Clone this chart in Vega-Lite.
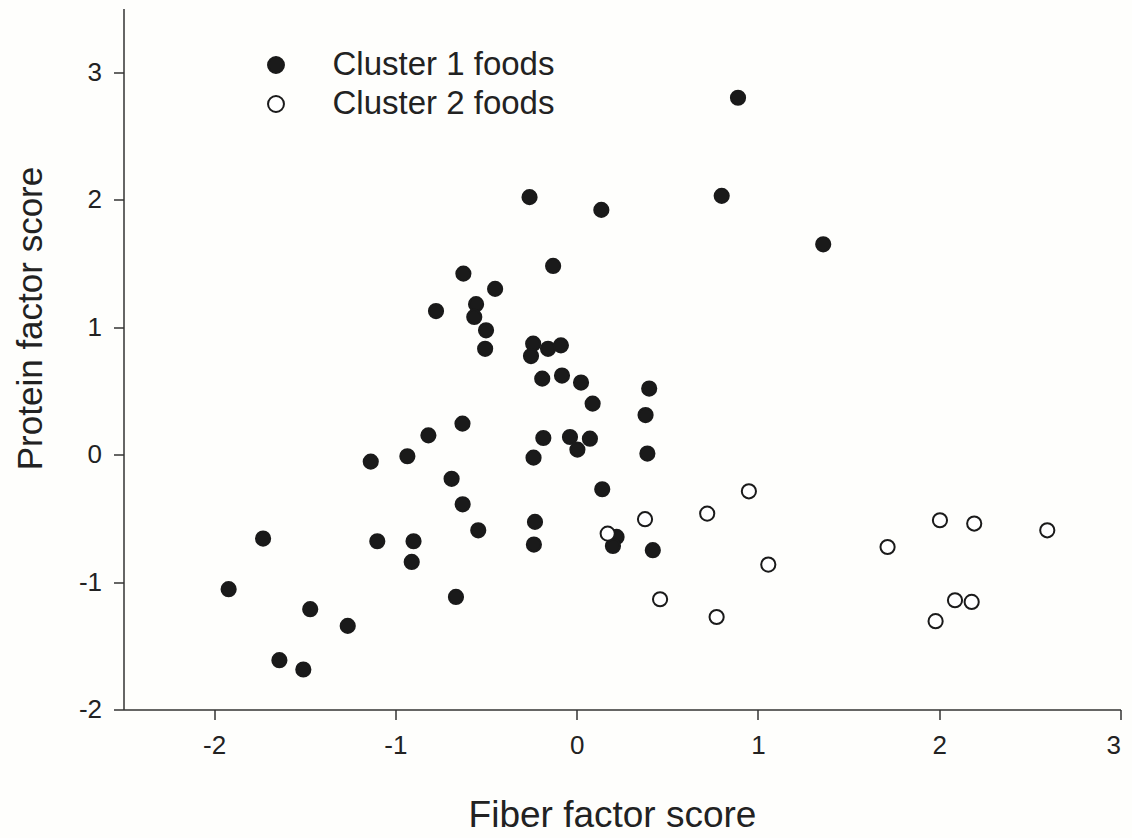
{
  "$schema": "https://vega.github.io/schema/vega-lite/v6.json",
  "width": 997,
  "height": 701,
  "autosize": "none",
  "padding": {"left": 123.5, "top": 8.5, "right": 11.5, "bottom": 128.5},
  "background": "#fefefc",
  "config": {
    "view": {"stroke": null},
    "font": "Liberation Sans",
    "axis": {"labelFontSize": 26, "labelFont": "Liberation Sans", "labelColor": "#222222"}
  },
  "data": {
    "values": [
      {"fiber": 0.89, "protein": 2.80, "cluster": "Cluster 1 foods"},
      {"fiber": -0.26, "protein": 2.02, "cluster": "Cluster 1 foods"},
      {"fiber": 0.136, "protein": 1.92, "cluster": "Cluster 1 foods"},
      {"fiber": 0.80, "protein": 2.03, "cluster": "Cluster 1 foods"},
      {"fiber": 1.36, "protein": 1.65, "cluster": "Cluster 1 foods"},
      {"fiber": -0.13, "protein": 1.48, "cluster": "Cluster 1 foods"},
      {"fiber": -0.625, "protein": 1.42, "cluster": "Cluster 1 foods"},
      {"fiber": -0.45, "protein": 1.30, "cluster": "Cluster 1 foods"},
      {"fiber": -0.776, "protein": 1.126, "cluster": "Cluster 1 foods"},
      {"fiber": -0.555, "protein": 1.18, "cluster": "Cluster 1 foods"},
      {"fiber": -0.565, "protein": 1.08, "cluster": "Cluster 1 foods"},
      {"fiber": -0.50, "protein": 0.975, "cluster": "Cluster 1 foods"},
      {"fiber": -0.505, "protein": 0.83, "cluster": "Cluster 1 foods"},
      {"fiber": -0.24, "protein": 0.87, "cluster": "Cluster 1 foods"},
      {"fiber": -0.252, "protein": 0.773, "cluster": "Cluster 1 foods"},
      {"fiber": -0.158, "protein": 0.83, "cluster": "Cluster 1 foods"},
      {"fiber": -0.087, "protein": 0.857, "cluster": "Cluster 1 foods"},
      {"fiber": -0.19, "protein": 0.596, "cluster": "Cluster 1 foods"},
      {"fiber": -0.081, "protein": 0.62, "cluster": "Cluster 1 foods"},
      {"fiber": 0.024, "protein": 0.565, "cluster": "Cluster 1 foods"},
      {"fiber": 0.088, "protein": 0.40, "cluster": "Cluster 1 foods"},
      {"fiber": 0.40, "protein": 0.518, "cluster": "Cluster 1 foods"},
      {"fiber": 0.38, "protein": 0.31, "cluster": "Cluster 1 foods"},
      {"fiber": 0.39, "protein": 0.008, "cluster": "Cluster 1 foods"},
      {"fiber": -0.63, "protein": 0.243, "cluster": "Cluster 1 foods"},
      {"fiber": -0.818, "protein": 0.151, "cluster": "Cluster 1 foods"},
      {"fiber": -0.934, "protein": -0.013, "cluster": "Cluster 1 foods"},
      {"fiber": -1.136, "protein": -0.055, "cluster": "Cluster 1 foods"},
      {"fiber": -0.184, "protein": 0.13, "cluster": "Cluster 1 foods"},
      {"fiber": -0.037, "protein": 0.138, "cluster": "Cluster 1 foods"},
      {"fiber": 0.073, "protein": 0.125, "cluster": "Cluster 1 foods"},
      {"fiber": 0.004, "protein": 0.039, "cluster": "Cluster 1 foods"},
      {"fiber": -0.238, "protein": -0.024, "cluster": "Cluster 1 foods"},
      {"fiber": -0.69, "protein": -0.19, "cluster": "Cluster 1 foods"},
      {"fiber": -0.629, "protein": -0.39, "cluster": "Cluster 1 foods"},
      {"fiber": -0.543, "protein": -0.594, "cluster": "Cluster 1 foods"},
      {"fiber": -0.23, "protein": -0.528, "cluster": "Cluster 1 foods"},
      {"fiber": -0.236, "protein": -0.706, "cluster": "Cluster 1 foods"},
      {"fiber": -0.666, "protein": -1.117, "cluster": "Cluster 1 foods"},
      {"fiber": 0.141, "protein": -0.272, "cluster": "Cluster 1 foods"},
      {"fiber": 0.22, "protein": -0.646, "cluster": "Cluster 1 foods"},
      {"fiber": 0.20, "protein": -0.717, "cluster": "Cluster 1 foods"},
      {"fiber": 0.42, "protein": -0.75, "cluster": "Cluster 1 foods"},
      {"fiber": -1.73, "protein": -0.659, "cluster": "Cluster 1 foods"},
      {"fiber": -1.10, "protein": -0.68, "cluster": "Cluster 1 foods"},
      {"fiber": -0.90, "protein": -0.68, "cluster": "Cluster 1 foods"},
      {"fiber": -0.91, "protein": -0.842, "cluster": "Cluster 1 foods"},
      {"fiber": -1.92, "protein": -1.056, "cluster": "Cluster 1 foods"},
      {"fiber": -1.47, "protein": -1.213, "cluster": "Cluster 1 foods"},
      {"fiber": -1.263, "protein": -1.344, "cluster": "Cluster 1 foods"},
      {"fiber": -1.64, "protein": -1.613, "cluster": "Cluster 1 foods"},
      {"fiber": -1.508, "protein": -1.686, "cluster": "Cluster 1 foods"},
      {"fiber": 0.171, "protein": -0.62, "cluster": "Cluster 2 foods"},
      {"fiber": 0.377, "protein": -0.507, "cluster": "Cluster 2 foods"},
      {"fiber": 0.72, "protein": -0.463, "cluster": "Cluster 2 foods"},
      {"fiber": 0.95, "protein": -0.288, "cluster": "Cluster 2 foods"},
      {"fiber": 0.46, "protein": -1.135, "cluster": "Cluster 2 foods"},
      {"fiber": 0.772, "protein": -1.274, "cluster": "Cluster 2 foods"},
      {"fiber": 1.057, "protein": -0.863, "cluster": "Cluster 2 foods"},
      {"fiber": 1.715, "protein": -0.725, "cluster": "Cluster 2 foods"},
      {"fiber": 2.004, "protein": -0.515, "cluster": "Cluster 2 foods"},
      {"fiber": 2.193, "protein": -0.541, "cluster": "Cluster 2 foods"},
      {"fiber": 2.596, "protein": -0.594, "cluster": "Cluster 2 foods"},
      {"fiber": 2.087, "protein": -1.143, "cluster": "Cluster 2 foods"},
      {"fiber": 2.179, "protein": -1.156, "cluster": "Cluster 2 foods"},
      {"fiber": 1.98, "protein": -1.307, "cluster": "Cluster 2 foods"}
    ]
  },
  "mark": {"type": "point", "shape": "circle", "filled": false, "size": 201, "strokeWidth": 2, "stroke": "#1a1a1a", "opacity": 1},
  "encoding": {
    "x": {
      "field": "fiber", "type": "quantitative",
      "scale": {"domain": [-2.5, 3], "nice": false, "zero": false},
      "axis": {
        "title": "Fiber factor score",
        "values": [-2, -1, 0, 1, 2, 3],
        "labelExpr": "'' + datum.value",
        "grid": false,
        "domainColor": "#333333", "domainWidth": 1.5,
        "tickColor": "#333333", "tickWidth": 1.5, "tickSize": 10,
        "labelFontSize": 26, "labelPadding": 13,
        "titleFontSize": 37, "titleFontWeight": "normal", "titleColor": "#222222", "titleFont": "Liberation Sans",
        "titleX": 488.5, "titleY": 106, "titleBaseline": "middle", "titleAnchor": "middle"
      }
    },
    "y": {
      "field": "protein", "type": "quantitative",
      "scale": {"domain": [-2, 3.5], "nice": false, "zero": false},
      "axis": {
        "title": "Protein factor score",
        "values": [-2, -1, 0, 1, 2, 3],
        "labelExpr": "'' + datum.value",
        "grid": false,
        "domainColor": "#333333", "domainWidth": 1.5,
        "tickColor": "#333333", "tickWidth": 1.5, "tickSize": 10,
        "labelFontSize": 26, "labelPadding": 12,
        "titleFontSize": 35, "titleFontWeight": "normal", "titleColor": "#222222", "titleFont": "Liberation Sans",
        "titleX": -93.5, "titleY": 309.5, "titleBaseline": "middle", "titleAnchor": "middle"
      }
    },
    "fill": {
      "field": "cluster", "type": "nominal",
      "scale": {"domain": ["Cluster 1 foods", "Cluster 2 foods"], "range": ["#1a1a1a", "#ffffff"]},
      "legend": {
        "title": null,
        "orient": "none",
        "legendX": 136,
        "legendY": 40,
        "padding": 0,
        "symbolType": "circle",
        "symbolSize": 254,
        "symbolStrokeColor": "#1a1a1a",
        "symbolStrokeWidth": 2,
        "symbolOpacity": 1,
        "labelFontSize": 33,
        "labelFont": "Liberation Sans",
        "labelColor": "#222222",
        "labelOffset": 40,
        "labelLimit": 0,
        "rowPadding": 5
      }
    }
  }
}
